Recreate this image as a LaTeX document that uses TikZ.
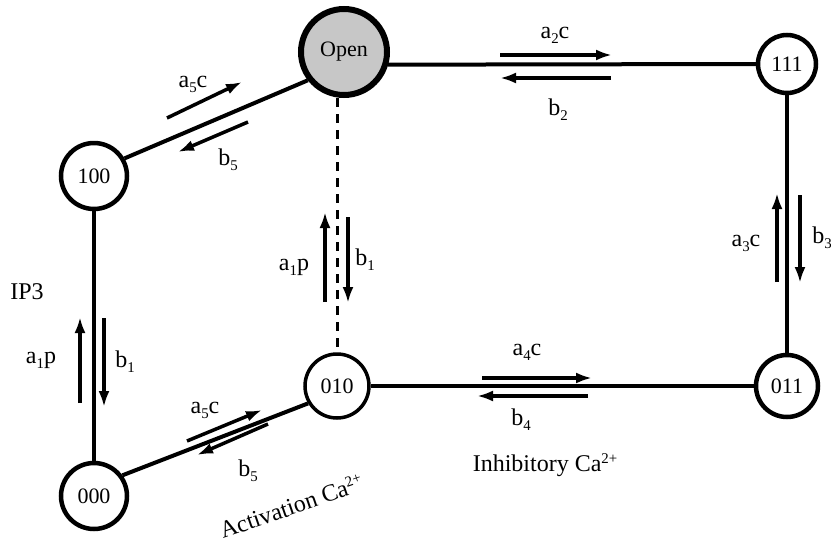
\documentclass[tikz,border=0pt]{standalone}
\usepackage{fontspec}
\setmainfont{Liberation Serif}
\usetikzlibrary{arrows.meta}
\newcommand\sbs[1]{\raisebox{-0.45ex}{\scalebox{0.62}{#1}}}
\newcommand\sps[1]{\raisebox{0.75ex}{\scalebox{0.62}{#1}}}
\begin{document}
\begin{tikzpicture}[x=1pt,y=-1pt,
  state/.style={circle,draw,line width=4.5pt,fill=white,inner sep=0pt,font=\fontsize{22}{22}\selectfont},
  edge/.style={line width=4pt},
  rate/.style={line width=3.5pt,-{Latex[length=16pt,width=11pt]}},
  lbl/.style={font=\fontsize{24}{24}\selectfont,inner sep=0pt}]
\useasboundingbox (0,0) rectangle (831,544);
% nodes
\node[state,fill=black!22,line width=6pt,minimum size=86pt] (Open) at (344,52) {Open};
\node[state,minimum size=58pt] (n111) at (787,64) {111};
\node[state,minimum size=66pt] (n100) at (94,176) {100};
\node[state,line width=3.5pt,minimum size=64pt] (n010) at (337,386) {010};
\node[state,minimum size=62pt] (n011) at (787,386) {011};
\node[state,minimum size=66pt] (n000) at (94,496) {000};
% edges
\draw[edge] (Open.-16) -- (n111.west);
\draw[edge] (n100.30) -- (Open.218);
\draw[edge] (n100.south) -- (n000.north);
\draw[edge] (n000.36) -- (n010.211);
\draw[edge] (n010.east) -- (n011.west);
\draw[edge] (n111.south) -- (n011.north);
\draw[line width=3pt,dash pattern=on 9pt off 7pt] (Open.south -| n010.north) -- (n010.north);
% rate arrows
\draw[rate] (167,118) -- (242,82);
\draw[rate] (248,122) -- (178,152);
\draw[rate] (500,55) -- (612,55);
\draw[rate] (611,78) -- (500,78);
\draw[rate] (777,282) -- (777,193);
\draw[rate] (800,195) -- (800,283);
\draw[rate] (325,302) -- (325,212);
\draw[rate] (348,217) -- (348,303);
\draw[rate] (80,403) -- (80,317);
\draw[rate] (104,318) -- (104,407);
\draw[rate] (482,378) -- (592,378);
\draw[rate] (588,396) -- (477,396);
\draw[rate] (187,441) -- (262,410);
\draw[rate] (268,424) -- (197,455);
% labels
\node[lbl] (l1) at (193,84) {a\sbs{5}c};
\node[lbl] (l2) at (228,160) {b\sbs{5}};
\node[lbl] (l3) at (555,35) {a\sbs{2}c};
\node[lbl] (l4) at (558,110) {b\sbs{2}};
\node[lbl] (l5) at (746,243) {a\sbs{3}c};
\node[lbl] (l6) at (822,238) {b\sbs{3}};
\node[lbl] (l7) at (294,267) {a\sbs{1}p};
\node[lbl] (l8) at (365,260) {b\sbs{1}};
\node[lbl] (l9) at (41,360) {a\sbs{1}p};
\node[lbl] (l10) at (125,362) {b\sbs{1}};
\node[lbl] (l11) at (27,292) {IP3};
\node[lbl] (l12) at (527,352) {a\sbs{4}c};
\node[lbl] (l13) at (521,420) {b\sbs{4}};
\node[lbl] (l14) at (205,410) {a\sbs{5}c};
\node[lbl] (l15) at (248,471) {b\sbs{5}};
\node[lbl,rotate=19] (l16) at (291,506) {Activation Ca\sps{2+}};
\node[lbl] (l17) at (545,465) {Inhibitory Ca\sps{2+}};
\end{tikzpicture}
\end{document}
